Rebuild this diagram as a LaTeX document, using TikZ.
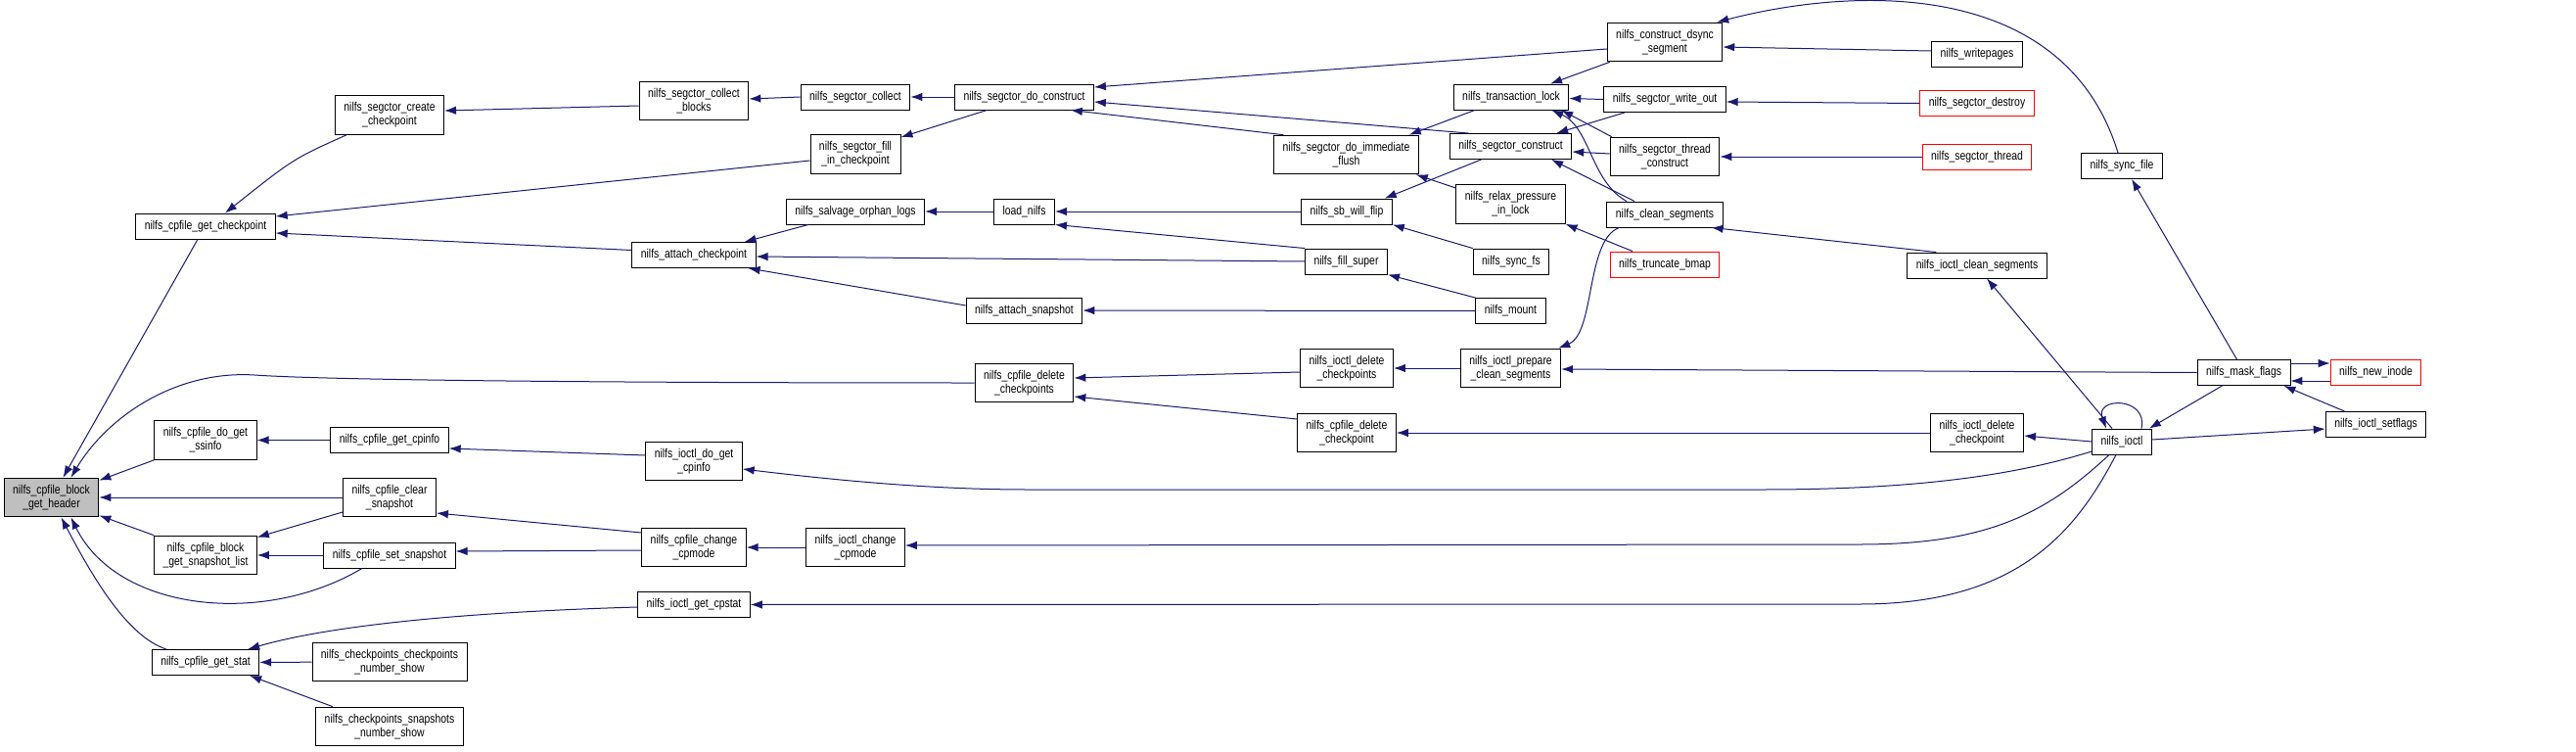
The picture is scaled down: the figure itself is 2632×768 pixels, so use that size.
\documentclass[tikz,border=0pt]{standalone}
\usepackage{fontspec}
\newfontfamily\dotfamily{Liberation Sans}[FakeStretch=0.82]
\usepackage{xcolor}
\usepackage{tikz}
\usetikzlibrary{arrows.meta}
\definecolor{edgeblue}{HTML}{191970}
\definecolor{hdrgray}{HTML}{BFBFBF}
\begin{document}
\begin{tikzpicture}[
  x=1pt, y=-1pt,
  font={\dotfamily\fontsize{12.7}{14}\selectfont},
  box/.style={draw=black, fill=white, line width=0.9pt, inner xsep=9pt, inner ysep=7pt, minimum height=26pt, align=center},
  boxred/.style={box, draw=red},
  boxsel/.style={box, fill=hdrgray},
  arr/.style={-{Latex[length=12pt,width=8.5pt]}, draw=edgeblue, line width=1pt}
]
\useasboundingbox (0,0) rectangle (2632,768);
\node[boxsel] (header) at (52.5,508) {nilfs\_cpfile\_block\\\_get\_header};
\node[box] (getcp) at (210,231) {nilfs\_cpfile\_get\_checkpoint};
\node[box] (ssinfo) at (210,449.5) {nilfs\_cpfile\_do\_get\\\_ssinfo};
\node[box] (snaplist) at (210,567) {nilfs\_cpfile\_block\\\_get\_snapshot\_list};
\node[box] (getstat) at (210,676.5) {nilfs\_cpfile\_get\_stat};
\node[box] (createcp) at (398,117.5) {nilfs\_segctor\_create\\\_checkpoint};
\node[box] (cpinfo) at (398,449.5) {nilfs\_cpfile\_get\_cpinfo};
\node[box] (clearsnap) at (398,508) {nilfs\_cpfile\_clear\\\_snapshot};
\node[box] (setsnap) at (398,567) {nilfs\_cpfile\_set\_snapshot};
\node[box] (cpshow) at (398,676) {nilfs\_checkpoints\_checkpoints\\\_number\_show};
\node[box] (snapshow) at (398,742) {nilfs\_checkpoints\_snapshots\\\_number\_show};
\node[box] (collblocks) at (709,103) {nilfs\_segctor\_collect\\\_blocks};
\node[box] (attachcp) at (709,260.5) {nilfs\_attach\_checkpoint};
\node[box] (iocdocpinfo) at (709,471) {nilfs\_ioctl\_do\_get\\\_cpinfo};
\node[box] (chgcpmode) at (709,559) {nilfs\_cpfile\_change\\\_cpmode};
\node[box] (iocgetstat) at (709,617.5) {nilfs\_ioctl\_get\_cpstat};
\node[box] (collect) at (874,99) {nilfs\_segctor\_collect};
\node[box] (fillin) at (874,157.5) {nilfs\_segctor\_fill\\\_in\_checkpoint};
\node[box] (salvage) at (874,216) {nilfs\_salvage\_orphan\_logs};
\node[box] (iocchgmode) at (874,559) {nilfs\_ioctl\_change\\\_cpmode};
\node[box] (doconstr) at (1046.5,99) {nilfs\_segctor\_do\_construct};
\node[box] (loadnilfs) at (1046.5,216) {load\_nilfs};
\node[box] (attachsnap) at (1046.5,317) {nilfs\_attach\_snapshot};
\node[box] (delcps) at (1046.5,391) {nilfs\_cpfile\_delete\\\_checkpoints};
\node[box] (flush) at (1375.5,158) {nilfs\_segctor\_do\_immediate\\\_flush};
\node[box] (sbflip) at (1376,216) {nilfs\_sb\_will\_flip};
\node[box] (fillsuper) at (1375.5,267) {nilfs\_fill\_super};
\node[box] (iocdelcps) at (1376,376) {nilfs\_ioctl\_delete\\\_checkpoints};
\node[box] (delcp) at (1376,442) {nilfs\_cpfile\_delete\\\_checkpoint};
\node[box] (translock) at (1544,99) {nilfs\_transaction\_lock};
\node[box] (segconstr) at (1543.5,149.5) {nilfs\_segctor\_construct};
\node[box] (relax) at (1543.5,208.5) {nilfs\_relax\_pressure\\\_in\_lock};
\node[box] (syncfs) at (1544,267) {nilfs\_sync\_fs};
\node[box] (mount) at (1543.5,317.5) {nilfs\_mount};
\node[box] (prepclean) at (1543.5,376) {nilfs\_ioctl\_prepare\\\_clean\_segments};
\node[box] (dsync) at (1701,43) {nilfs\_construct\_dsync\\\_segment};
\node[box] (writeout) at (1701,101.5) {nilfs\_segctor\_write\_out};
\node[box] (threadconstr) at (1701,160) {nilfs\_segctor\_thread\\\_construct};
\node[box] (cleanseg) at (1701,219) {nilfs\_clean\_segments};
\node[boxred] (truncbmap) at (1701,270) {nilfs\_truncate\_bmap};
\node[box] (writepages) at (2020,55) {nilfs\_writepages};
\node[boxred] (segdestroy) at (2020,105.5) {nilfs\_segctor\_destroy};
\node[boxred] (segthread) at (2020,160) {nilfs\_segctor\_thread};
\node[box] (iocclean) at (2020,271) {nilfs\_ioctl\_clean\_segments};
\node[box] (iocdelcp) at (2020,442) {nilfs\_ioctl\_delete\\\_checkpoint};
\node[box] (syncfile) at (2168,169.5) {nilfs\_sync\_file};
\node[box] (ioctl) at (2168,451) {nilfs\_ioctl};
\node[box] (maskflags) at (2292.5,380.5) {nilfs\_mask\_flags};
\node[boxred] (newinode) at (2427.5,380.5) {nilfs\_new\_inode};
\node[box] (setflags) at (2427.5,433.5) {nilfs\_ioctl\_setflags};
\draw[arr] ([xshift=-8pt]getcp.south) -- ([xshift=12pt]header.north);
\draw[arr] ([xshift=12pt]createcp.south west) .. controls (300,162) .. ([xshift=20pt]getcp.north);
\draw[arr] ([yshift=-6.5pt]fillin.west) -- ([yshift=10pt]getcp.east);
\draw[arr] ([yshift=5pt]attachcp.west) -- ([yshift=-7pt]getcp.east);
\draw[arr] ([yshift=-5pt]collblocks.west) -- ([yshift=4.5pt]createcp.east);
\draw[arr] (collect.west) -- ([yshift=2pt]collblocks.east);
\draw[arr] (doconstr) -- (collect);
\draw[arr] ([xshift=-38pt]doconstr.south) -- ([yshift=-3pt]fillin.north east);
\draw[arr] ([yshift=-7pt]dsync.west) -- ([yshift=10pt]doconstr.east);
\draw[arr] ([xshift=-43pt]segconstr.north) -- ([yshift=-5pt]doconstr.east);
\draw[arr] ([xshift=10pt]flush.north west) -- ([xshift=-24pt]doconstr.south east);
\draw[arr] ([xshift=-37pt]translock.south) -- ([xshift=-10pt]flush.north east);
\draw[arr] ([xshift=3pt]dsync.south west) -- ([xshift=40pt]translock.north);
\draw[arr] (writeout.west) -- ([yshift=-1.5pt]translock.east);
\draw[arr] ([xshift=2pt]threadconstr.north west) -- ([xshift=-8pt]translock.south east);
\draw[arr] ([xshift=-39pt]cleanseg.north) .. controls (1625,185) and (1625,130) .. ([xshift=-18pt]translock.south east);
\draw[arr] ([xshift=-41pt]writeout.south) -- ([xshift=-16pt]segconstr.north east);
\draw[arr] ([yshift=3pt]threadconstr.west) -- ([yshift=-5.5pt]segconstr.east);
\draw[arr] ([xshift=-31pt]cleanseg.north) -- ([xshift=-21pt]segconstr.south east);
\draw[arr] ([xshift=-30pt]segconstr.south) -- ([xshift=-8pt]sbflip.north east);
\draw[arr] ([yshift=16.5pt]relax.west) -- ([xshift=-3pt]flush.south east);
\draw[arr] ([yshift=3pt]writepages.west) -- ([yshift=-5pt]dsync.east);
\draw[arr] ([xshift=-4pt]syncfile.north) .. controls (2110,-20) and (1900,-15) .. ([xshift=-6pt]dsync.north east);
\draw[arr] (segdestroy.west) -- ([yshift=-2.5pt]writeout.east);
\draw[arr] (segthread) -- (threadconstr);
\draw[arr] ([xshift=30pt]iocclean.north west) -- ([xshift=-12pt]cleanseg.south east);
\draw[arr] ([xshift=-33pt]truncbmap.north) -- (relax.south east);
\draw[arr] (syncfs.north west) -- (sbflip.south east);
\draw[arr] (sbflip) -- (loadnilfs);
\draw[arr] (fillsuper.north west) -- (loadnilfs.south east);
\draw[arr] (fillsuper.west) -- ([yshift=-1.5pt]attachcp.east);
\draw[arr] (mount.north west) -- (fillsuper.south east);
\draw[arr] (mount) -- (attachsnap);
\draw[arr] ([yshift=5pt]attachsnap.west) -- ([xshift=-8pt]attachcp.south east);
\draw[arr] (loadnilfs) -- (salvage);
\draw[arr] ([xshift=-48pt]salvage.south) -- ([xshift=-12pt]attachcp.north east);
\draw[arr] ([xshift=13pt]cleanseg.south west) .. controls (1620,245) and (1630,340) .. ([xshift=-3pt]prepclean.north east);
\draw[arr] ([yshift=-4pt]iocdelcps.west) -- ([yshift=5pt]delcps.east);
\draw[arr] (prepclean) -- (iocdelcps);
\draw[arr] (maskflags.west) -- ([yshift=-1pt]prepclean.east);
\draw[arr] ([yshift=14pt]delcp.west) -- ([yshift=-14pt]delcps.east);
\draw[arr] (delcps.west) .. controls (600,391) and (330,388) .. (260,383) .. controls (180,378) and (110,425) .. ([xshift=20pt]header.north);
\draw[arr] (iocdelcp) -- (delcp);
\draw[arr] (ioctl.west) -- ([yshift=-3pt]iocdelcp.east);
\draw[arr] ([yshift=-10pt]ioctl.west) .. controls (2060,485) and (1960,500) .. (1800,500) -- (1050,500) .. controls (950,500) and (850,490) .. ([yshift=-8pt]iocdocpinfo.east);
\draw[arr] ([xshift=-13pt]ioctl.south) .. controls (2090,525) and (2030,556) .. (1900,556) -- ([yshift=2pt]iocchgmode.east);
\draw[arr] ([xshift=-6pt]ioctl.south) .. controls (2120,545) and (2060,617) .. (1900,617) -- (iocgetstat.east);
\draw[arr] ([xshift=20pt]ioctl.north) .. controls (2195,405) and (2140,405) .. ([xshift=-16pt]ioctl.north);
\draw[arr] ([xshift=-10pt]ioctl.north) -- ([xshift=10pt]iocclean.south);
\draw[arr] ([xshift=-22pt]maskflags.south) -- ([xshift=-3pt]ioctl.north east);
\draw[arr] ([yshift=2pt]ioctl.east) -- ([yshift=-4.5pt]setflags.west);
\draw[arr] ([xshift=-32pt]setflags.north) -- ([xshift=-7pt]maskflags.south east);
\draw[arr] ([yshift=-8.5pt]newinode.west) -- ([yshift=-8.5pt]maskflags.east);
\draw[arr] ([yshift=9.5pt]maskflags.east) -- ([yshift=9.5pt]newinode.west);
\draw[arr] ([xshift=-7pt]maskflags.north) -- ([xshift=10pt]syncfile.south);
\draw[arr] (ssinfo.south west) -- ([yshift=-3pt]header.north east);
\draw[arr] (cpinfo) -- (ssinfo);
\draw[arr] ([yshift=6pt]iocdocpinfo.west) -- ([yshift=-8.5pt]cpinfo.east);
\draw[arr] (clearsnap) -- (header);
\draw[arr] ([yshift=-15pt]clearsnap.west) -- ([yshift=-2pt]snaplist.north east);
\draw[arr] (snaplist.north west) -- ([yshift=2pt]header.south east);
\draw[arr] (setsnap) -- (snaplist);
\draw[arr] ([xshift=-28pt]setsnap.south) .. controls (270,640) and (120,625) .. ([xshift=20pt]header.south);
\draw[arr] ([yshift=15pt]chgcpmode.west) -- ([yshift=-16pt]clearsnap.east);
\draw[arr] ([yshift=-3pt]chgcpmode.west) -- ([yshift=4pt]setsnap.east);
\draw[arr] (iocchgmode) -- (chgcpmode);
\draw[arr] ([xshift=-40pt]getstat.north) .. controls (130,650) and (95,590) .. ([xshift=10pt]header.south);
\draw[arr] ([yshift=-2.5pt]iocgetstat.west) .. controls (480,625) and (340,638) .. ([xshift=-12pt]getstat.north east);
\draw[arr] (cpshow) -- (getstat);
\draw[arr] ([xshift=-58pt]snapshow.north) -- ([xshift=-10pt]getstat.south east);
\end{tikzpicture}
\end{document}
